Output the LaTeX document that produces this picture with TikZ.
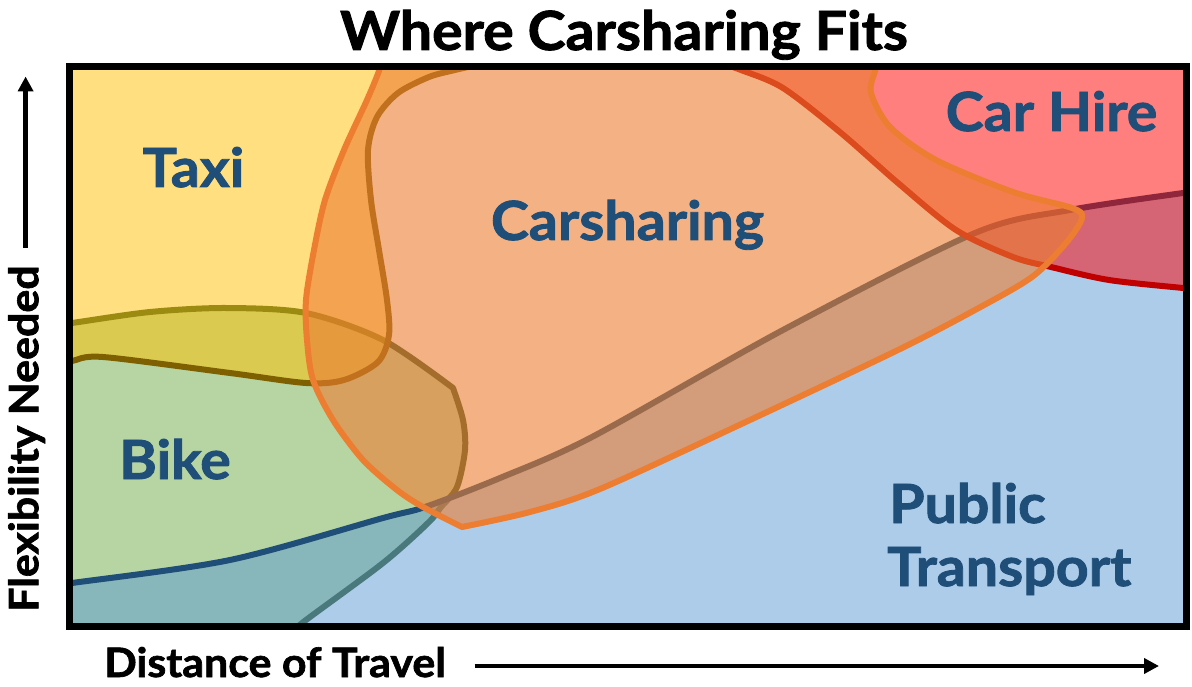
\documentclass[tikz,border=0pt]{standalone}
\usepackage{fontspec}
\setmainfont{Lato}[BoldFeatures={FakeBold=1.6,FakeStretch=1.06}]
\usetikzlibrary{arrows.meta}
\definecolor{ptblue}{HTML}{5B9BD5}
\definecolor{ptline}{HTML}{1F4E79}
\definecolor{bikeg}{HTML}{70AD47}
\definecolor{bikeline}{HTML}{385723}
\definecolor{taxiy}{HTML}{FFC000}
\definecolor{taxiline}{HTML}{7F6000}
\definecolor{hirered}{HTML}{FF0000}
\definecolor{hireline}{HTML}{C00000}
\definecolor{csorange}{HTML}{ED7D31}
\definecolor{lbl}{HTML}{1F4E79}
\begin{document}
\begin{tikzpicture}[x=1pt,y=-1pt,
  region/.style={line width=6pt, line join=round},
  lab/.style={font=\fontsize{54}{60}\selectfont\bfseries, text=lbl, inner sep=0pt},
  axislab/.style={font=\fontsize{40.5}{46}\selectfont\bfseries, text=black, inner sep=0pt},
  axisarrow/.style={line width=4.5pt, -{Triangle[length=15pt,width=15pt]}}]
\useasboundingbox (0,0) rectangle (1192,687);
\fill[white] (0,0) rectangle (1192,687);
\begin{scope}
\clip (69,67) rectangle (1187,626);
% Bike
\filldraw[region, fill=bikeg, fill opacity=0.5, draw=bikeline]
  plot[smooth] coordinates {(55,325) (72,323) (150,312) (226,308) (306,313) (383,340) (453,388)}
  -- plot[smooth] coordinates {(453,388) (463,420) (465,450) (457,487) (441,507) (428,523) (383,563) (306,620) (295,630)}
  -- (55,640) -- cycle;
% Taxi
\filldraw[region, fill=taxiy, fill opacity=0.5, draw=taxiline]
  plot[smooth] coordinates {(55,363) (72,361) (103,357) (230,373) (306,383) (344,380) (378,362) (389,335) (387,300) (379,250) (371,200) (368,150) (377,117) (398,93) (429,77) (455,70) (490,62)}
  -- (490,55) -- (55,55) -- cycle;
% Public transport
\filldraw[region, fill=ptblue, fill opacity=0.5, draw=ptline]
  plot[smooth] coordinates {(55,585) (72,583) (230,560) (383,518) (425,507) (500,478) (592,437) (783,330) (975,233) (1070,210) (1183,193) (1195,192)}
  -- (1195,640) -- (55,640) -- cycle;
% Car hire
\filldraw[region, fill=hirered, fill opacity=0.5, draw=hireline]
  plot[smooth] coordinates {(712,60) (741,70) (783,88) (841,133) (898,183) (956,230) (1013,257) (1051,267) (1109,280) (1183,288) (1195,289)}
  -- (1195,55) -- (712,55) -- cycle;
% Carsharing
\filldraw[region, fill=csorange, fill opacity=0.6, draw=csorange]
  plot[smooth] coordinates {(383,56) (379,71) (367,100) (344,150) (325,200) (314,250) (306,300) (307,340) (313,380) (333,420) (363,460) (397,490) (423,507) (462,527)}
  -- plot[smooth] coordinates {(462,527) (530,512) (600,489) (750,420) (898,350) (975,310) (1032,277) (1066,243) (1082,218) (1072,208) (1013,192) (936,160) (890,127) (871,93) (875,71) (879,56)}
  -- cycle;
\end{scope}
\draw[line width=7pt] (69.3,67) rectangle (1186.7,626);
% labels
\node[lab, anchor=base] (taxi) at (193.5,187) {Taxi};
\node[lab, anchor=base] (cs) at (627.5,240) {Carsharing};
\node[lab, anchor=base] (hire) at (1051.5,131) {Car Hire};
\node[lab, anchor=base] (bike) at (175,479) {Bike};
\node[lab, anchor=base west] (pt1) at (889,523) {Public};
\node[lab, anchor=base west] (pt2) at (887,586) {Transport};
% title
\node[font=\fontsize{54}{60}\selectfont\bfseries, anchor=base, inner sep=0pt] (title) at (624,50) {Where Carsharing Fits};
% axes
\node[axislab, anchor=base west] (xlab) at (104,677) {Distance of Travel};
\node[axislab, anchor=base west, rotate=90] (ylab) at (38.3,612) {Flexibility Needed};
\coordinate (xa1) at (474.5,666);
\coordinate (xa2) at (1159,666);
\coordinate (ya1) at (25.6,248);
\coordinate (ya2) at (25.6,76.5);
\draw[axisarrow] (xa1) -- (xa2);
\draw[axisarrow] (ya1) -- (ya2);
\end{tikzpicture}
\end{document}
